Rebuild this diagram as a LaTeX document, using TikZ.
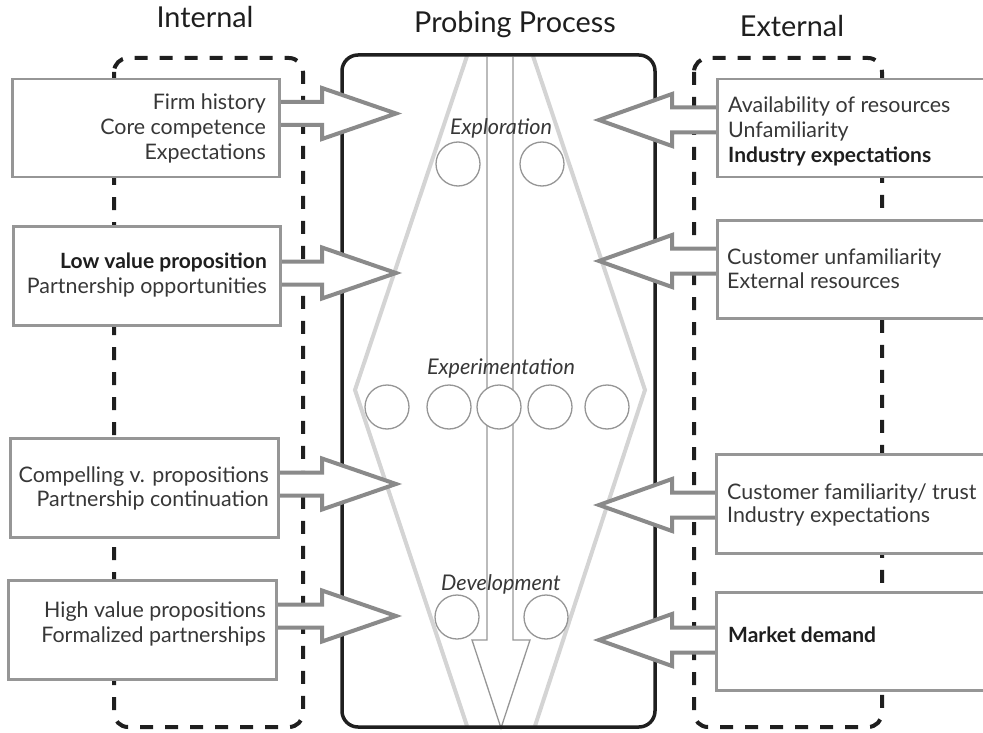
\documentclass[tikz,border=0pt]{standalone}
\usepackage{fontspec}
\setmainfont{Lato}
\definecolor{boxgray}{RGB}{150,150,150}
\definecolor{arrgray}{RGB}{138,138,138}
\definecolor{hexgray}{RGB}{212,212,212}
\definecolor{circgray}{RGB}{150,150,150}
\definecolor{txtgray}{RGB}{55,55,55}
\definecolor{darktxt}{RGB}{30,30,30}
\newcommand\RArr[3]{\draw[blockarrow] (#1,#3-11.5) -- (#2-74,#3-11.5) -- (#2-74,#3-25.5) -- (#2,#3) -- (#2-74,#3+25.5) -- (#2-74,#3+11.5) -- (#1,#3+11.5);}
\newcommand\LArr[3]{\draw[blockarrow] (#1,#3-12.5) -- (#2+73,#3-12.5) -- (#2+73,#3-26) -- (#2,#3) -- (#2+73,#3+26) -- (#2+73,#3+12.5) -- (#1,#3+12.5);}
\begin{document}
\begin{tikzpicture}[x=1pt,y=-1pt,
  sidebox/.style={draw=boxgray, line width=2.5pt, fill=white, rectangle, inner sep=0, anchor=north west},
  blockarrow/.style={draw=arrgray, line width=4pt, fill=white, line join=miter},
  groupbox/.style={draw=black!88, line width=4pt, dash pattern=on 13pt off 12pt, rounded corners=14pt},
  procbox/.style={draw=black!88, line width=3.5pt, rounded corners=16pt},
  hexline/.style={draw=hexgray, line width=4pt},
  thinarrow/.style={draw=circgray, line width=1.3pt, line join=miter},
  probe/.style={circle, draw=circgray, line width=1.3pt, fill=white, minimum size=44pt, inner sep=0},
  body/.style={font=\fontsize{21.4}{25}\selectfont, text=txtgray, inner sep=0},
  bodyb/.style={font=\fontsize{21}{25}\selectfont\bfseries, text=darktxt, inner sep=0},
  phase/.style={font=\fontsize{21.6}{25}\selectfont\itshape, text=txtgray, inner sep=0, anchor=base},
  title/.style={font=\fontsize{28.8}{32}\selectfont, text=darktxt, inner sep=0, anchor=base}
]
\useasboundingbox (0,0) rectangle (983,733);
\clip (0,0) rectangle (983,733);

% titles
\node[title] (tint) at (205,28) {Internal};
\node[title] (tpro) at (515,33) {Probing Process};
\node[title] (text) at (792,37) {External};

% central process: light gray hexagon lines
\coordinate (h1) at (467,56);
\coordinate (h2) at (355,390);
\coordinate (h3) at (467,726);
\coordinate (h4) at (533,56);
\coordinate (h5) at (645,390);
\coordinate (h6) at (535,726);
\draw[hexline] (h1) -- (h2) -- (h3);
\draw[hexline] (h4) -- (h5) -- (h6);

% central downward arrow
\draw[thinarrow] (487,57) -- (487,640) -- (472,640) -- (501,728) -- (530,640) -- (513,640) -- (513,57);

% probes
\node[probe] (e1) at (458,164) {};
\node[probe] (e2) at (542,164) {};
\node[probe] (x1) at (387,407) {};
\node[probe] (x2) at (449,407) {};
\node[probe] (x3) at (499,407) {};
\node[probe] (x4) at (550,407) {};
\node[probe] (x5) at (607,407) {};
\node[probe] (d1) at (457,617) {};
\node[probe] (d2) at (546,617) {};

% phase labels
\node[phase] (pexp) at (501,135) {Exploration};
\node[phase] (pexm) at (501,374) {Experimentation};
\node[phase] (pdev) at (501,590) {Development};

% process box
\draw[procbox] (342,55) rectangle (655,727);

% dashed group boxes
\draw[groupbox] (114,58) rectangle (303,727);
\draw[groupbox] (694,58) rectangle (882,727);

% arrows (internal -> process)
\RArr{278}{396}{113.5}
\RArr{278}{396}{273}
\RArr{276}{396}{484}
\RArr{274}{396}{616}
% arrows (external -> process)
\LArr{716}{599}{120}
\LArr{716}{599}{261}
\LArr{715}{599}{505}
\LArr{715}{599}{640}

% internal boxes
\node[sidebox, minimum width=267pt, minimum height=98pt] (L1) at (11,78) {};
\node[sidebox, minimum width=267pt, minimum height=99pt] (L2) at (12,225) {};
\node[sidebox, minimum width=268pt, minimum height=99pt] (L3) at (9,437) {};
\node[sidebox, minimum width=268pt, minimum height=99pt] (L4) at (7,579) {};
% external boxes
\node[sidebox, minimum width=290pt, minimum height=98pt] (R1) at (716,78) {};
\node[sidebox, minimum width=290pt, minimum height=98pt] (R2) at (716,219) {};
\node[sidebox, minimum width=290pt, minimum height=99pt] (R3) at (715,453) {};
\node[sidebox, minimum width=290pt, minimum height=98pt] (R4) at (715,591) {};

% internal texts
\node[body, anchor=base east] (l1a) at (266,110) {Firm history};
\node[body, anchor=base east] (l1b) at (266,135) {Core competence};
\node[body, anchor=base east] (l1c) at (266,160) {Expectations};
\node[bodyb, anchor=base east] (l2a) at (267,268) {Low value proposition};
\node[body, anchor=base east] (l2b) at (267,293) {Partnership opportunities};
\node[body, anchor=base east] (l3a) at (269,482) {Compelling v. propositions};
\node[body, anchor=base east] (l3b) at (269,506) {Partnership continuation};
\node[body, anchor=base east] (l4a) at (266,617) {High value propositions};
\node[body, anchor=base east] (l4b) at (266,642) {Formalized partnerships};
% external texts
\node[body, anchor=base west] (r1a) at (728,113) {Availability of resources};
\node[body, anchor=base west] (r1b) at (728,138) {Unfamiliarity};
\node[bodyb, anchor=base west] (r1c) at (728,163) {Industry expectations};
\node[body, anchor=base west] (r2a) at (727,264) {Customer unfamiliarity};
\node[body, anchor=base west] (r2b) at (727,288) {External resources};
\node[body, anchor=base west] (r3a) at (727,499) {Customer familiarity/ trust};
\node[body, anchor=base west] (r3b) at (727,522) {Industry expectations};
\node[bodyb, anchor=base west] (r4a) at (728,642) {Market demand};
\end{tikzpicture}
\end{document}
